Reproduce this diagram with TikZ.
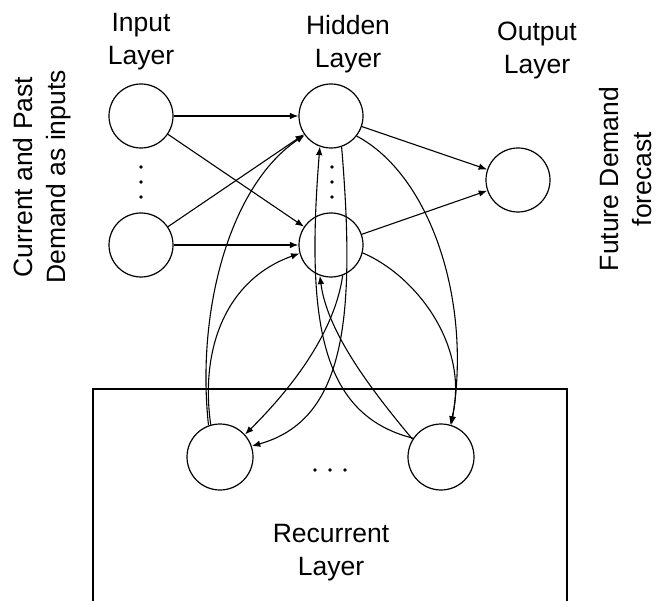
\documentclass[tikz,border=0pt]{standalone}
\usepackage{fontspec}
\setmainfont{Liberation Sans}
\usetikzlibrary{arrows.meta}
\begin{document}
\begin{tikzpicture}[x=1pt,y=-1pt,
  neuron/.style={draw, circle, minimum size=64pt, inner sep=0pt, line width=1.2pt},
  link/.style={line width=1.1pt, -{Latex[length=8.5pt,width=6.5pt]}},
  lbl/.style={align=center, inner sep=0pt, font=\fontsize{26.5}{33}\selectfont}]
\useasboundingbox (0,0) rectangle (658,601);

% recurrent layer frame, open at the bottom
\draw[line width=1.2pt] (93,606) -- (93,389) -- (567,389) -- (567,606);

% neurons
\node[neuron] (i1) at (141,116) {};
\node[neuron] (i2) at (141,245) {};
\node[neuron] (h1) at (331,116) {};
\node[neuron] (h2) at (331,245) {};
\node[neuron] (o)  at (518,180) {};
\node[neuron, minimum size=66pt] (r1) at (220,457) {};
\node[neuron, minimum size=66pt] (r2) at (441,457) {};

% ellipsis dots
\foreach \y in {167,182,197} {
  \fill (141,\y) circle (1.8pt);
  \fill (332,\y) circle (1.8pt);
}
\foreach \x in {315,330,345} \fill (\x,470) circle (1.8pt);

% feed-forward links
\draw[link] (i1) -- (h1);
\draw[link] (i1) -- (h2);
\draw[link] (i2) -- (h1);
\draw[link] (i2) -- (h2);
\draw[link] (h1) -- (o);
\draw[link] (h2) -- (o);

% recurrent layer back into the hidden layer
\draw[link] (r1.110) .. controls (196,310) and (230,185) .. (h1.216);
\draw[link] (r1.106) .. controls (200,350) and (225,280) .. (h2.195);
\draw[link] (r2.146) .. controls (320,415) and (306,320) .. (h1.250);
\draw[link] (r2.148) .. controls (367,385) and (327,330) .. (h2.250);

% hidden layer copied into the recurrent layer
\draw[link] (h1.289) .. controls (356,320) and (345,420) .. (r1.19);
\draw[link] (h2.291) .. controls (335,330) and (295,385) .. (r1.42);
\draw[link] (h1.322) .. controls (430,175) and (472,300) .. (r2.72);
\draw[link] (h2.346) .. controls (415,275) and (470,345) .. (r2.74);

% labels (anchored at the baseline of their last line)
\node[lbl, anchor=base] (tin)  at (141,65) {Input\\Layer};
\node[lbl, anchor=base] (thid) at (348,68) {Hidden\\Layer};
\node[lbl, anchor=base] (tout) at (537,74) {Output\\Layer};
\node[lbl, anchor=base] (trec) at (331,575) {Recurrent\\Layer};
\node[lbl, rotate=90] (tcur) at (42,177) {Current and Past\\Demand as inputs};
\node[lbl, rotate=90] (tfut) at (626,179) {Future Demand\\forecast};
\end{tikzpicture}
\end{document}
